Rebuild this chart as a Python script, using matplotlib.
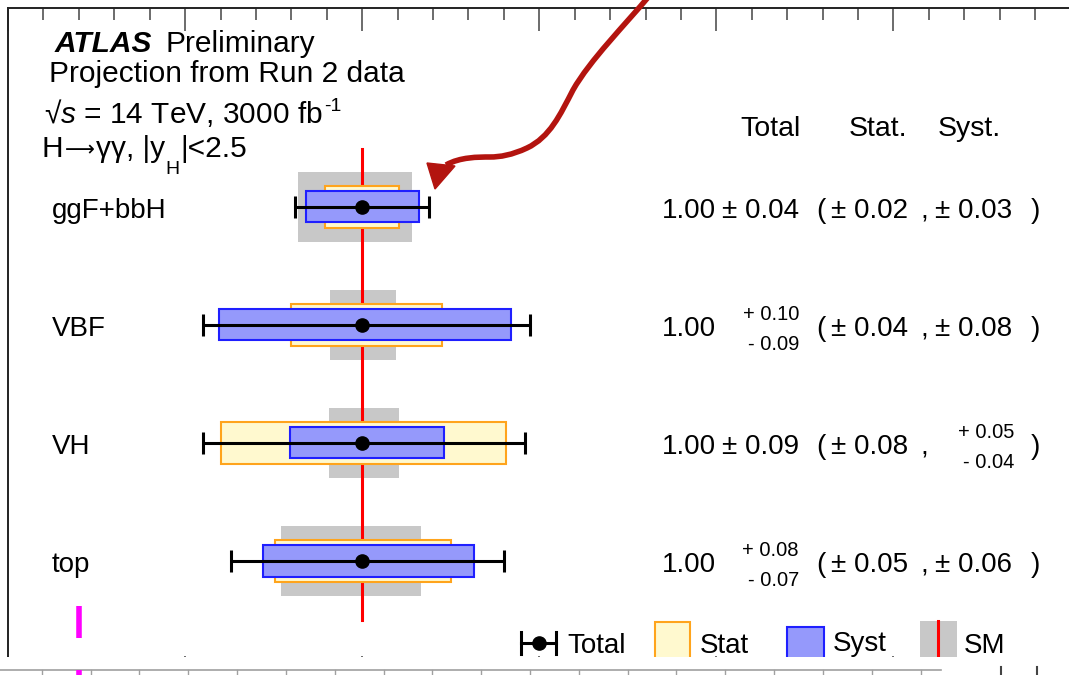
import numpy as np
import matplotlib
matplotlib.use("Agg")
import matplotlib.pyplot as plt
from matplotlib.patches import Rectangle, Polygon, PathPatch
from matplotlib.path import Path
from matplotlib.lines import Line2D
from matplotlib.transforms import Affine2D

plt.rcParams["font.family"] = ["Liberation Sans", "DejaVu Sans"]
plt.rcParams["mathtext.fontset"] = "custom"
plt.rcParams["mathtext.rm"] = "Liberation Sans"
plt.rcParams["mathtext.it"] = "Liberation Sans:italic"
plt.rcParams["mathtext.bf"] = "Liberation Sans:bold"

# ---- data (signal strength per production mode) ----
categories = ["ggF+bbH", "VBF", "VH", "top"]
mu = np.array([1.00, 1.00, 1.00, 1.00])
tot_dn = np.array([0.038, 0.090, 0.090, 0.074])
tot_up = np.array([0.038, 0.095, 0.092, 0.080])
stat_dn = np.array([0.021, 0.040, 0.080, 0.049])
stat_up = np.array([0.021, 0.045, 0.081, 0.050])
syst_dn = np.array([0.032, 0.081, 0.041, 0.056])
syst_up = np.array([0.032, 0.084, 0.046, 0.063])
sm_dn = np.array([0.036, 0.018, 0.019, 0.046])
sm_up = np.array([0.028, 0.019, 0.021, 0.033])
sm_value = 1.0

# numbers printed in the table
tot_up_lbl = ["0.04", "0.10", "0.09", "0.08"]
tot_dn_lbl = ["0.04", "0.09", "0.09", "0.07"]
stat_up_lbl = ["0.02", "0.04", "0.08", "0.05"]
stat_dn_lbl = ["0.02", "0.04", "0.08", "0.05"]
syst_up_lbl = ["0.03", "0.08", "0.05", "0.06"]
syst_dn_lbl = ["0.03", "0.08", "0.04", "0.06"]

W, H = 1069, 675
fig = plt.figure(figsize=(W / 100, H / 100), dpi=100)
# pixel coords measured from the top-left corner of the image
tpx = Affine2D().scale(1 / W, -1 / H).translate(0, 1) + fig.transFigure

ax = fig.add_axes([8 / W, 1 - 679 / H, 1062.6 / W, 671 / H])
rows = np.arange(len(categories))[::-1] + 1.0

GRAY, YEL, ORANGE, BLUEF, BLUE = "#c8c8c8", "#fff9cf", "#ffa41c", "#9599fb", "#1f1fff"

ax.barh(rows, sm_dn + sm_up, left=mu - sm_dn, height=0.60, color=GRAY, lw=0, zorder=1)
ax.plot([sm_value, sm_value], [0.5, 4.49], color="#ff0000", lw=2.2, zorder=1.5)
ax.barh(rows, stat_dn + stat_up, left=mu - stat_dn, height=0.36, color=YEL,
        edgecolor=ORANGE, lw=1.5, zorder=2)
ax.barh(rows, syst_dn + syst_up, left=mu - syst_dn, height=0.263, color=BLUEF,
        edgecolor=BLUE, lw=1.5, zorder=3)
ax.errorbar(mu, rows, xerr=[tot_dn, tot_up], fmt="o", color="k", ms=9.5, lw=2.2,
            capsize=8, capthick=2.2, zorder=4)

ax.set_xlim(0.8, 1.4)
ax.set_ylim(0, 5.686)
ax.set_xticks(np.arange(0.8, 1.41, 0.1))
ax.set_xticks(np.arange(0.8, 1.41, 0.02), minor=True)
ax.set_yticks([])
ax.tick_params(which="both", direction="in", top=True, bottom=True,
               labelbottom=False, labelleft=False, color="#444444", width=1.1)
ax.tick_params(which="major", length=16.3)
ax.tick_params(which="minor", length=8.4)
for sp in ax.spines.values():
    sp.set_linewidth(1.4)
    sp.set_color("#222222")

FS = 20
LFS = 21.5


def row_text(s, x, row, dy, size=FS, ha="left"):
    ax.annotate(s, xy=(x / W, row), xycoords=("figure fraction", "data"),
                xytext=(0, dy), textcoords="offset pixels", ha=ha, va="baseline",
                fontsize=size)


def err_text(up, dn, x_sym, x_right, row):
    if up == dn:
        row_text(f"\u00b1 {up}", x_sym, row, -11.5)
    else:
        row_text(f"+ {up}", x_right, row, 5, size=14.5, ha="right")
        row_text(f"- {dn}", x_right, row, -25, size=14.5, ha="right")


def after(prev, s, y, dx=0, size=LFS, **kw):
    # text placed right after another text, baseline at pixel row y
    return ax.annotate(s, xy=(1, y), xycoords=(prev, tpx), xytext=(dx, 0),
                       textcoords="offset pixels", va="baseline", ha="left",
                       fontsize=size, **kw)


for i, r in enumerate(rows):
    row_text(categories[i], 52, r, -11.5)
    row_text(f"{mu[i]:.2f}", 662, r, -11.5)
    err_text(tot_up_lbl[i], tot_dn_lbl[i], 722, 799, r)
    row_text("(", 816, r, -11.5)
    err_text(stat_up_lbl[i], stat_dn_lbl[i], 831, 912, r)
    row_text(",", 920, r, -11.5)
    err_text(syst_up_lbl[i], syst_dn_lbl[i], 935, 1014, r)
    row_text(")", 1031, r, -11.5)

# table header
for s, x in [("Total", 740), ("Stat.", 849), ("Syst.", 938)]:
    fig.text(x, 136, s, transform=tpx, fontsize=20.5, va="baseline")

# ATLAS label block
t = fig.text(55, 51.7, "ATLAS", transform=tpx, fontsize=LFS, fontweight="bold",
             fontstyle="italic", va="baseline")
after(t, "Preliminary", 51.7, dx=13)
fig.text(49, 81.7, "Projection from Run 2 data", transform=tpx, fontsize=LFS,
         va="baseline")
t = fig.text(44, 123.3, "\u221a$s$ = 14 TeV, 3000 fb", transform=tpx, fontsize=LFS,
             va="baseline")
after(t, "-1", 111, dx=1, size=14)
t = fig.text(42, 156.7, "H", transform=tpx, fontsize=LFS, va="baseline")
t = after(t, "\u27f6", 156.7, dx=1, size=15, family="DejaVu Sans")
t = after(t, "\u03b3\u03b3, |y", 156.7, dx=1)
t = after(t, "H", 174, dx=1, size=14)
after(t, "|<2.5", 156.7, dx=1)

# legend
fig.add_artist(Line2D([521, 556], [643, 643], color="k", lw=2.2, transform=tpx))
for cx in (521, 556):
    fig.add_artist(Line2D([cx, cx], [632, 654], color="k", lw=2.2, transform=tpx))
fig.add_artist(Line2D([539], [643], marker="o", ms=9.5, color="k", transform=tpx))
fig.text(567, 653, "Total", transform=tpx, fontsize=FS, va="baseline")
fig.add_artist(Rectangle((655, 622), 35, 45, facecolor=YEL, edgecolor=ORANGE, lw=1.5,
                         transform=tpx))
fig.text(700, 653, "Stat", transform=tpx, fontsize=FS, va="baseline")
fig.add_artist(Rectangle((787, 627), 37, 40, facecolor=BLUEF, edgecolor=BLUE, lw=1.5,
                         transform=tpx))
fig.text(833, 651, "Syst", transform=tpx, fontsize=FS, va="baseline")
fig.add_artist(Rectangle((920, 621), 37, 46, facecolor=GRAY, lw=0, transform=tpx))
fig.add_artist(Line2D([938, 938], [621, 667], color="#ff0000", lw=2.2, transform=tpx))
fig.text(964, 653, "SM", transform=tpx, fontsize=FS, va="baseline")

# red annotation arrow
verts = [(650, -5), (625, 25), (590, 60), (573, 90),
         (560, 115), (550, 137), (527, 148),
         (512, 155), (500, 157), (490, 157),
         (478, 157), (460, 157), (446, 165)]
codes = [Path.MOVETO] + [Path.CURVE4] * 12
fig.add_artist(PathPatch(Path(verts, codes), facecolor="none", edgecolor="#b3140f",
                         lw=4, transform=tpx, zorder=5))
fig.add_artist(Polygon([(427, 163), (455, 166), (435, 189)], closed=True,
                       facecolor="#b3140f", edgecolor="#b3140f", lw=1, transform=tpx,
                       zorder=5))

# overlapping screenshot strip at the bottom
fig.add_artist(Rectangle((-2, 657), W + 4, 30, facecolor="white", lw=0, transform=tpx,
                         zorder=10))
fig.add_artist(Line2D([0, 941], [670, 670], color="#a0a0a0", lw=1.2, transform=tpx,
                      zorder=11))
for xt in np.arange(41.7, 925, 48.83):
    fig.add_artist(Line2D([xt, xt], [670, 677], color="#a0a0a0", lw=1.0, transform=tpx,
                          zorder=11))
for xt in (1000.7, 1036.7):
    fig.add_artist(Line2D([xt, xt], [667, 677], color="#444444", lw=1.5, transform=tpx,
                          zorder=11))
for y0, y1 in [(606, 638), (670, 677)]:
    fig.add_artist(Line2D([79, 79], [y0, y1], color="#ff00ff", lw=4, transform=tpx,
                          zorder=11, solid_capstyle="butt"))

fig.savefig("out.png", dpi=100)
